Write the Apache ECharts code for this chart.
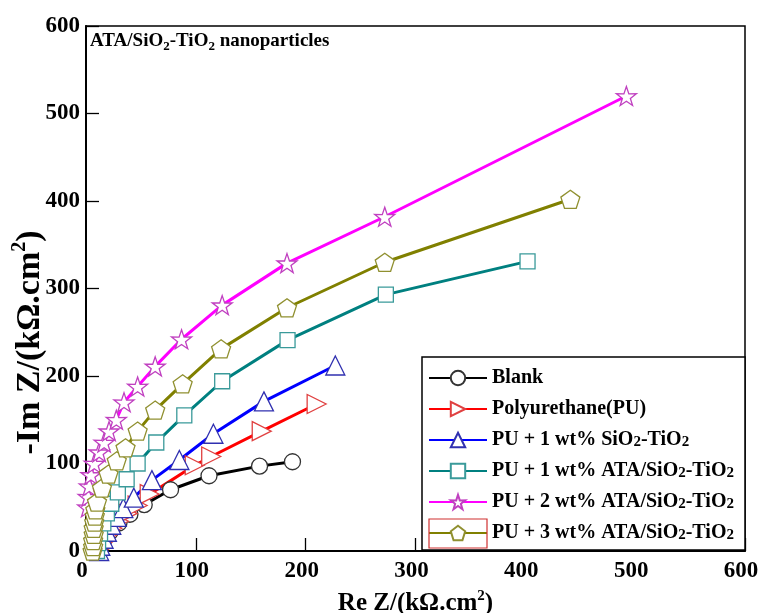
<!DOCTYPE html>
<html><head><meta charset="utf-8">
<script src="https://cdn.jsdelivr.net/npm/echarts@6/dist/echarts.min.js"></script>
<style>html,body{margin:0;padding:0;background:#fff}#c{width:758px;height:613px}</style>
</head><body><div id="c"></div>
<script>
// Data (Re Z, -Im Z) in kΩ.cm²
const seriesNames = ['Blank','Polyurethane(PU)','PU + 1 wt% SiO2-TiO2','PU + 1 wt% ATA/SiO2-TiO2','PU + 2 wt% ATA/SiO2-TiO2','PU + 3 wt% ATA/SiO2-TiO2'];
const blank = [[13,3],[16,12],[22,22],[30,32],[40,42],[53,53],[77,70],[112,86],[158,97],[188,102]];
const pu = [[13,3],[15,10],[19,18],[24,26],[30,34],[38,43],[47,52],[58,65],[99,98],[114,108],[160,137],[210,168]];
const pu1 = [[12,0],[13,6],[16,14],[19,22],[23,30],[28,39],[34,49],[43.5,61],[60,81],[85,104],[116,134],[162,171],[227,212]];
const ata1 = [[10,0],[11,9],[12.8,20],[15.8,31.5],[19,43],[23,54],[29,67],[37,82],[47,100],[64,124],[89.5,155],[124,194],[183.5,241],[273,293],[402,331]];
const ata2 = [[1.5,50],[2,62],[3,74],[4.5,87],[7.5,100],[12,113],[16.5,124],[21,137],[27.6,150],[34.6,170],[47,188],[63,211],[87,242],[124,281],[183,329],[272,382],[492,520]];
const ata3 = [[6,0],[6.5,5],[6.5,12],[7,19],[7,26],[7.5,33],[8,40],[8.5,47],[10,56],[14.5,72],[20.5,88],[28,103],[36,118],[47,137],[63,161],[88,191],[123,231],[183,278],[272,330],[441,402]];
const xTicks = [0,100,200,300,400,500,600];
const yTicks = [0,100,200,300,400,500,600];

const STAR = 'path://M50,0 L61.8,35.1 L97.6,34.5 L69,56.6 L79.4,90.5 L50,70 L20.6,90.5 L31,56.6 L2.4,34.5 L38.2,35.1 Z';
const PENT = 'path://M50,0 L97.6,34.5 L79.4,90.5 L20.6,90.5 L2.4,34.5 Z';
const FONT = '"Liberation Serif","Times New Roman",serif';

function mk(name, data, line, mcol, symbol, size, rot){
  return {
    name, type:'line', data, symbol, symbolSize:size, symbolRotate:rot||0, symbolKeepAspect:true,
    showAllSymbol:true, animation:false, z:2,
    lineStyle:{color:line, width:3},
    itemStyle:{color:'#fff', borderColor:mcol, borderWidth:1.3},
    emphasis:{disabled:true}
  };
}

const chart = echarts.init(document.getElementById('c'), null, {renderer:'canvas'});
chart.setOption({
  animation:false,
  backgroundColor:'#fff',
  textStyle:{fontFamily:FONT},
  grid:{left:86, top:26, width:659, height:525, outerBoundsMode:'none', containLabel:false,
        show:true, borderColor:'#000', borderWidth:1.5, backgroundColor:'transparent'},
  title:{
    text:'ATA/SiO{s|2}-TiO{s|2} nanoparticles', left:90, top:29, padding:0,
    textStyle:{fontFamily:FONT, fontWeight:'bold', fontSize:19, color:'#000',
      rich:{s:{fontFamily:FONT, fontWeight:'bold', fontSize:13, padding:[11,0,0,0], color:'#000'}}}
  },
  xAxis:{
    type:'value', min:0, max:600, interval:100,
    name:'Re Z/(kΩ.cm{p|2})', nameLocation:'middle', nameGap:38, nameMoveOverlap:false,
    nameTextStyle:{fontFamily:FONT, fontWeight:'bold', fontSize:25, color:'#000',
      rich:{p:{fontFamily:FONT, fontWeight:'bold', fontSize:15, padding:[0,0,14,0], color:'#000'}}},
    axisLine:{show:true, lineStyle:{color:'#000', width:2}},
    axisTick:{show:true, inside:true, length:13, lineStyle:{color:'#000', width:1.3}},
    axisLabel:{fontFamily:FONT, fontWeight:'bold', fontSize:23, color:'#000', margin:9, padding:[0,8,0,0],
      formatter:v=> xTicks.includes(v)? String(v):''},
    splitLine:{show:false}
  },
  yAxis:{
    type:'value', min:0, max:600, interval:100,
    name:'-Im Z/(kΩ.cm{p|2})', nameLocation:'middle', nameGap:36, nameRotate:90, nameMoveOverlap:false,
    nameTextStyle:{fontFamily:FONT, fontWeight:'bold', fontSize:34, color:'#000', padding:[0,108,0,0],
      rich:{p:{fontFamily:FONT, fontWeight:'bold', fontSize:20, padding:[0,0,20,0], color:'#000'}}},
    axisLine:{show:true, lineStyle:{color:'#000', width:2}},
    axisTick:{show:true, inside:true, length:13, lineStyle:{color:'#000', width:1.3}},
    axisLabel:{fontFamily:FONT, fontWeight:'bold', fontSize:23, color:'#000', margin:6,
      formatter:v=> yTicks.includes(v)? String(v):''},
    splitLine:{show:false}
  },
  legend:{
    orient:'vertical', left:428, top:368, z:20, padding:0,
    itemWidth:58, itemHeight:18, itemGap:11,
    data:seriesNames,
    formatter:n=>n.replace(/O2/g,'O{s|2}'),
    textStyle:{fontFamily:FONT, fontWeight:'bold', fontSize:20, lineHeight:18, color:'#000',
      rich:{s:{fontFamily:FONT, fontWeight:'bold', fontSize:15, lineHeight:18, padding:[5,0,0,0], color:'#000'}}}
  },
  graphic:[
    {type:'rect', z:15, shape:{x:422, y:357, width:323, height:193}, style:{fill:'#fff', stroke:'#000', lineWidth:1.5}},
    {type:'rect', z:30, shape:{x:429, y:519, width:58, height:29}, style:{fill:'none', stroke:'#d03030', lineWidth:1.2}}
  ],
  series:[
    mk(seriesNames[0], blank, '#000000', '#333333', 'circle', 16),
    mk(seriesNames[1], pu, '#ff0000', '#e04040', 'triangle', 19, -90),
    mk(seriesNames[2], pu1, '#0000ff', '#3030b0', 'triangle', 19),
    mk(seriesNames[3], ata1, '#008080', '#3a9a9a', 'rect', 15),
    mk(seriesNames[4], ata2, '#ff00ff', '#c040c0', STAR, 20),
    mk(seriesNames[5], ata3, '#808000', '#909030', PENT, 19)
  ]
});
</script></body></html>
